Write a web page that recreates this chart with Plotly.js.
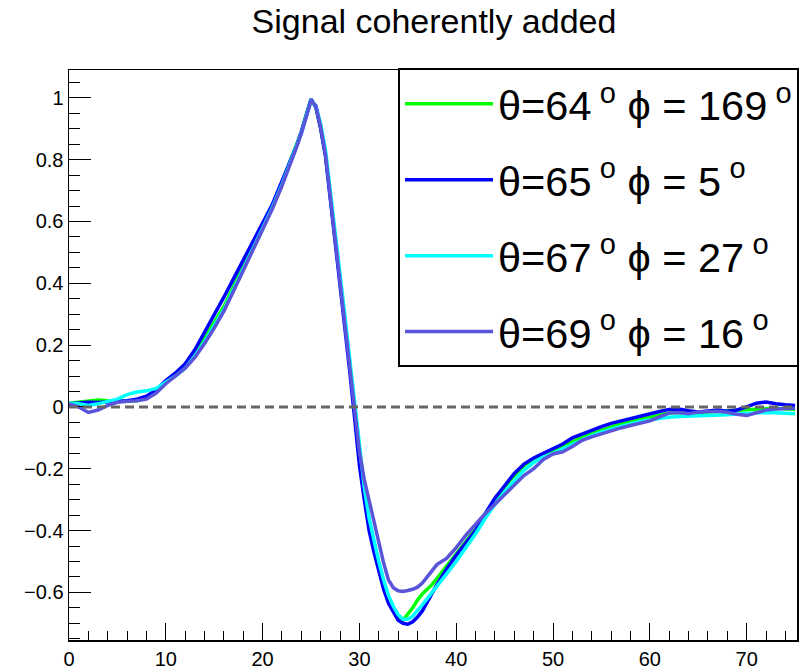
<!DOCTYPE html>
<html>
<head>
<meta charset="utf-8">
<script src="https://cdn.plot.ly/plotly-3.0.1.min.js"></script>
<style>html,body{margin:0;padding:0;background:#fff;}#chart{width:803px;height:672px;}</style>
</head>
<body>
<div id="chart"></div>
<script>
// Sample positions (time axis)
const xValues = [
  0,1,2,3,4,5,6,7,8,9,10,11,12,13,14,15,16,17,18,19,20,21,22,23,
  23.5,24,24.5,25,25.5,26,26.5,27,27.5,28,28.5,29,29.5,30,30.5,31,31.5,32,32.5,33,33.5,34,34.5,35,35.5,36,36.5,37,37.5,38,
  39,40,41,42,43,44,45,46,47,48,49,50,51,52,53,54,55,56,57,58,59,60,61,62,63,64,65,66,67,68,69,70,71,72,73,74,75
];

// θ=64° φ=169°
const sigTheta64 = [
  0.012,0.015,0.02,0.022,0.02,0.018,0.018,0.02,0.028,0.05,0.08,0.105,0.13,0.17,0.22,0.27,0.325,0.39,0.455,0.515,0.58,0.65,0.725,0.805,
  0.845,0.89,0.945,0.995,0.97,0.9,0.815,0.68,0.545,0.41,0.27,0.13,-0.015,-0.15,-0.27,-0.375,-0.445,-0.51,-0.57,-0.615,-0.65,-0.675,-0.69,-0.67,-0.65,-0.625,-0.605,-0.59,-0.575,-0.555,
  -0.515,-0.475,-0.435,-0.395,-0.345,-0.3,-0.258,-0.222,-0.19,-0.168,-0.152,-0.14,-0.126,-0.11,-0.096,-0.085,-0.075,-0.064,-0.055,-0.047,-0.04,-0.033,-0.027,-0.02,-0.018,-0.02,-0.018,-0.016,-0.015,-0.014,-0.012,-0.01,-0.006,-0.004,-0.004,-0.006,-0.008
];

// θ=65° φ=5°
const sigTheta65 = [
  0.01,0.012,0.015,0.014,0.016,0.018,0.02,0.025,0.035,0.055,0.085,0.11,0.14,0.185,0.24,0.295,0.355,0.415,0.475,0.53,0.59,0.655,0.73,0.805,
  0.845,0.89,0.945,0.995,0.97,0.9,0.81,0.675,0.54,0.4,0.26,0.115,-0.035,-0.19,-0.3,-0.4,-0.47,-0.535,-0.59,-0.635,-0.665,-0.69,-0.7,-0.703,-0.695,-0.68,-0.66,-0.63,-0.6,-0.575,
  -0.525,-0.48,-0.44,-0.4,-0.345,-0.295,-0.255,-0.215,-0.185,-0.165,-0.15,-0.135,-0.12,-0.1,-0.087,-0.075,-0.064,-0.053,-0.045,-0.038,-0.03,-0.023,-0.015,-0.008,-0.007,-0.012,-0.016,-0.013,-0.01,-0.014,-0.01,0.0,0.012,0.016,0.01,0.007,0.005
];

// θ=67° φ=27°
const sigTheta67 = [
  0.012,0.01,0.005,0.01,0.018,0.025,0.04,0.048,0.052,0.06,0.08,0.1,0.125,0.165,0.21,0.26,0.315,0.38,0.445,0.51,0.575,0.645,0.72,0.8,
  0.84,0.885,0.94,0.99,0.975,0.915,0.83,0.7,0.565,0.43,0.295,0.155,0.01,-0.13,-0.26,-0.36,-0.435,-0.5,-0.56,-0.61,-0.645,-0.672,-0.687,-0.687,-0.677,-0.66,-0.64,-0.62,-0.6,-0.58,
  -0.54,-0.5,-0.455,-0.41,-0.36,-0.315,-0.275,-0.24,-0.205,-0.18,-0.162,-0.15,-0.136,-0.12,-0.106,-0.093,-0.082,-0.072,-0.063,-0.055,-0.047,-0.042,-0.037,-0.033,-0.031,-0.03,-0.03,-0.028,-0.026,-0.025,-0.023,-0.021,-0.02,-0.018,-0.019,-0.02,-0.022
];

// θ=69° φ=16°
const sigTheta69 = [
  0.01,0.0,-0.018,-0.01,0.005,0.015,0.018,0.02,0.025,0.045,0.075,0.1,0.125,0.16,0.205,0.255,0.31,0.375,0.44,0.505,0.57,0.64,0.715,0.795,
  0.84,0.885,0.935,0.99,0.975,0.905,0.815,0.68,0.545,0.41,0.27,0.13,-0.015,-0.145,-0.235,-0.305,-0.375,-0.44,-0.505,-0.56,-0.585,-0.595,-0.597,-0.594,-0.59,-0.583,-0.57,-0.55,-0.53,-0.51,
  -0.49,-0.455,-0.415,-0.38,-0.345,-0.315,-0.285,-0.252,-0.222,-0.2,-0.17,-0.152,-0.145,-0.128,-0.108,-0.097,-0.087,-0.076,-0.068,-0.06,-0.052,-0.045,-0.032,-0.02,-0.018,-0.022,-0.016,-0.014,-0.014,-0.017,-0.024,-0.028,-0.018,-0.01,-0.007,-0.005,-0.004
];

const seriesNames = [
  'θ=64\u2009<sup>o</sup> ϕ = 169\u2009<sup>o</sup>',
  'θ=65\u2009<sup>o</sup> ϕ = 5\u2009<sup>o</sup>',
  'θ=67\u2009<sup>o</sup> ϕ = 27\u2009<sup>o</sup>',
  'θ=69\u2009<sup>o</sup> ϕ = 16\u2009<sup>o</sup>'
];
const seriesValues = [sigTheta64, sigTheta65, sigTheta67, sigTheta69];
const seriesColors = ['#00ff00', '#0000ff', '#00ffff', '#5954d9'];

const FONT = 'Liberation Sans, Arial, Helvetica, sans-serif';

const traces = seriesValues.map((ys, i) => ({
  type: 'scatter',
  mode: 'lines',
  x: xValues,
  y: ys,
  name: seriesNames[i],
  legendgroup: 'g' + i,
  line: {color: seriesColors[i], width: 3.5},
  hoverinfo: 'skip'
}));

const axisCommon = {
  showline: true, linecolor: '#000', linewidth: 1.5, mirror: true,
  ticks: 'inside', tickcolor: '#000', tickwidth: 1,
  showgrid: false, zeroline: false,
  tickfont: {family: FONT, size: 20, color: '#000'}
};

const layout = {
  width: 803, height: 672,
  margin: {l: 69, r: 5, t: 70, b: 32, pad: 0},
  paper_bgcolor: '#fff', plot_bgcolor: '#fff',
  title: {
    text: 'Signal coherently added',
    font: {family: FONT, size: 34, color: '#000'},
    x: 0.5405, xanchor: 'center', xref: 'container',
    y: 0.968, yanchor: 'middle', yref: 'container'
  },
  xaxis: Object.assign({}, axisCommon, {
    range: [0, 75.2], tick0: 0, dtick: 10, ticklen: 17,
    minor: {ticks: 'inside', ticklen: 9, dtick: 2, tick0: 0, tickcolor: '#000', tickwidth: 1, showgrid: false}
  }),
  yaxis: Object.assign({}, axisCommon, {
    range: [-0.754, 1.09], tick0: 0, dtick: 0.2, ticklen: 22,
    minor: {ticks: 'inside', ticklen: 11, dtick: 0.05, tick0: 0, tickcolor: '#000', tickwidth: 1, showgrid: false}
  }),
  shapes: [{
    type: 'line', xref: 'paper', yref: 'y', x0: 0, x1: 1, y0: 0, y1: 0,
    line: {color: '#666666', width: 3, dash: '9px,5px'}, layer: 'above'
  }],
  showlegend: true,
  legend: {
    x: 1.0014, xanchor: 'right', y: 1.003, yanchor: 'top',
    bgcolor: '#fff', bordercolor: '#000', borderwidth: 2,
    font: {family: FONT, size: 41.5, color: '#000'},
    itemwidth: 88, tracegroupgap: 19, traceorder: 'grouped'
  }
};

Plotly.newPlot('chart', traces, layout, {displayModeBar: false, staticPlot: true});
</script>
</body>
</html>
